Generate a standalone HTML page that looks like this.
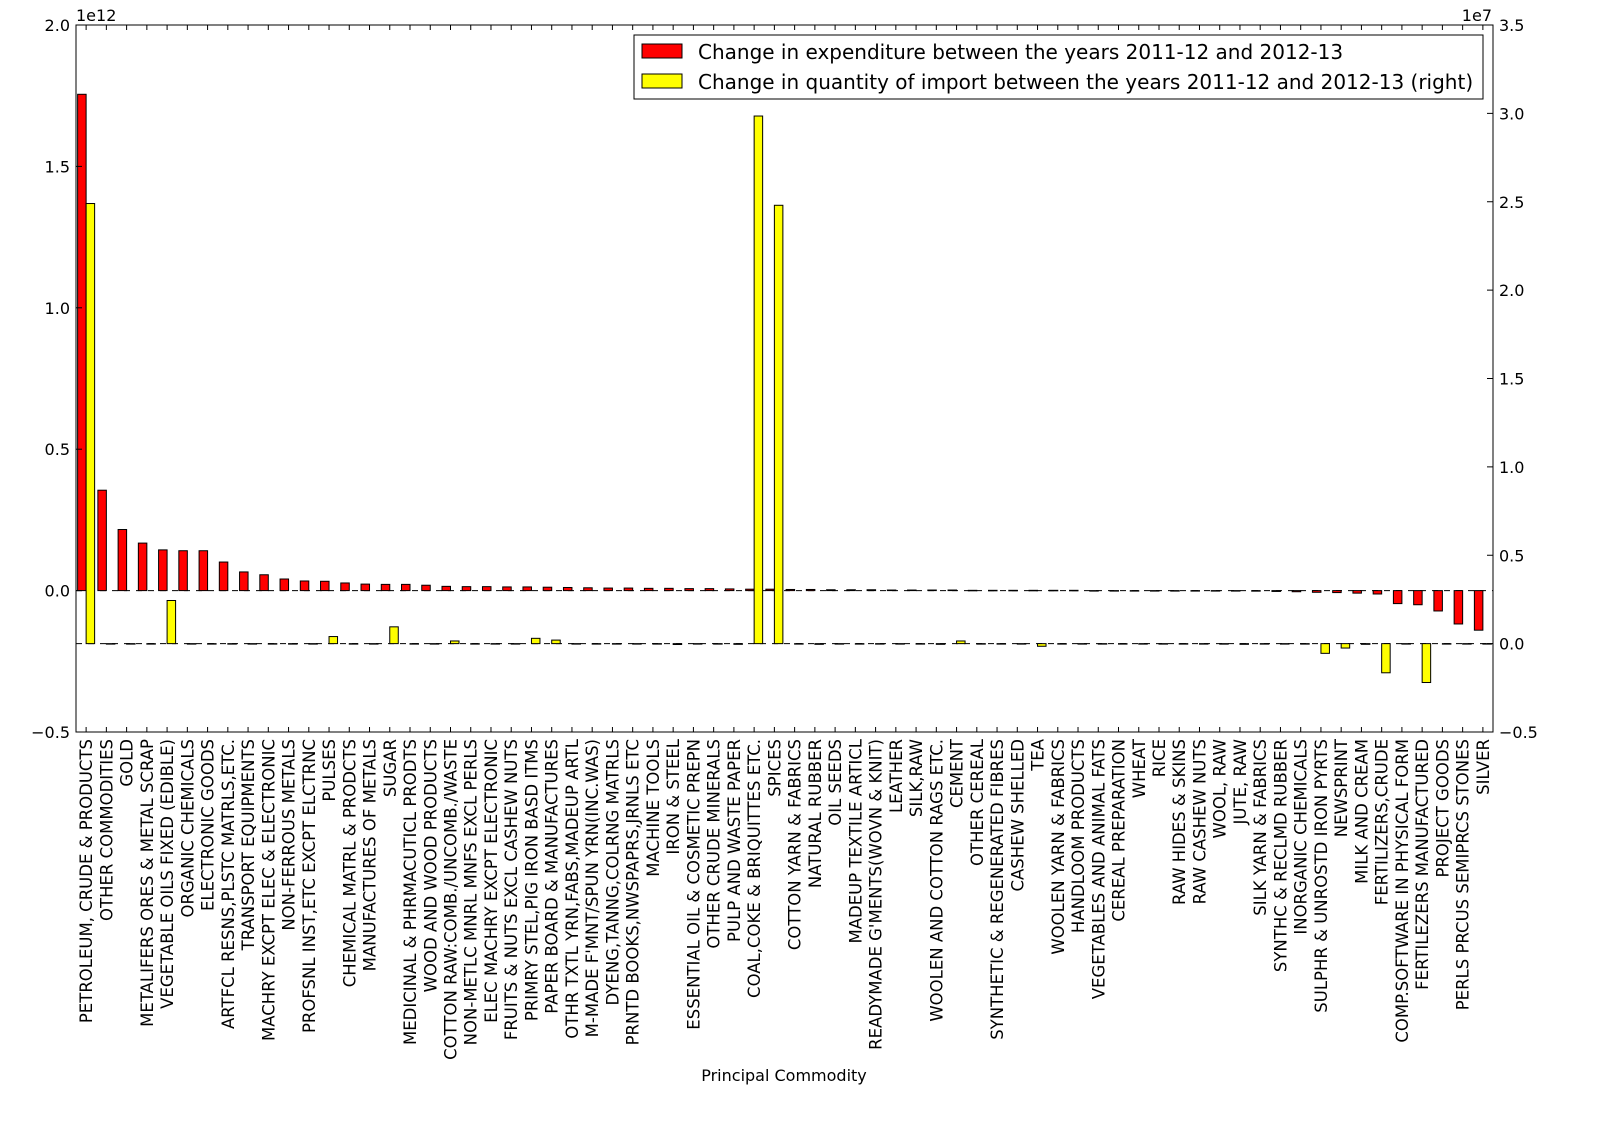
<!DOCTYPE html>
<html><head><meta charset="utf-8"><style>
body{margin:0;background:#fff;}
svg text{font-family:"DejaVu Sans","Liberation Sans",sans-serif;fill:#000;}
</style></head><body>
<svg id="chart" width="1600" height="1122" xmlns="http://www.w3.org/2000/svg" style="position:absolute;left:0;top:0"></svg>
<script>
const categories=["PETROLEUM, CRUDE & PRODUCTS","OTHER COMMODITIES","GOLD","METALIFERS ORES & METAL SCRAP","VEGETABLE OILS FIXED (EDIBLE)","ORGANIC CHEMICALS","ELECTRONIC GOODS","ARTFCL RESNS,PLSTC MATRLS,ETC.","TRANSPORT EQUIPMENTS","MACHRY EXCPT ELEC & ELECTRONIC","NON-FERROUS METALS","PROFSNL INST,ETC EXCPT ELCTRNC","PULSES","CHEMICAL MATRL & PRODCTS","MANUFACTURES OF METALS","SUGAR","MEDICINAL & PHRMACUTICL PRODTS","WOOD AND WOOD PRODUCTS","COTTON RAW:COMB./UNCOMB./WASTE","NON-METLC MNRL MNFS EXCL PERLS","ELEC MACHRY EXCPT ELECTRONIC","FRUITS & NUTS EXCL CASHEW NUTS","PRIMRY STEL,PIG IRON BASD ITMS","PAPER BOARD & MANUFACTURES","OTHR TXTL YRN,FABS,MADEUP ARTL","M-MADE F'MNT/SPUN YRN(INC.WAS)","DYENG,TANNG,COLRNG MATRLS","PRNTD BOOKS,NWSPAPRS,JRNLS ETC","MACHINE TOOLS","IRON & STEEL","ESSENTIAL OIL & COSMETIC PREPN","OTHER CRUDE MINERALS","PULP AND WASTE PAPER","COAL,COKE & BRIQUITTES ETC.","SPICES","COTTON YARN & FABRICS","NATURAL RUBBER","OIL SEEDS","MADEUP TEXTILE ARTICL","READYMADE G'MENTS(WOVN & KNIT)","LEATHER","SILK,RAW","WOOLEN AND COTTON RAGS ETC.","CEMENT","OTHER CEREAL","SYNTHETIC & REGENERATED FIBRES","CASHEW SHELLED","TEA","WOOLEN YARN & FABRICS","HANDLOOM PRODUCTS","VEGETABLES AND ANIMAL FATS","CEREAL PREPARATION","WHEAT","RICE","RAW HIDES & SKINS","RAW CASHEW NUTS","WOOL, RAW","JUTE, RAW","SILK YARN & FABRICS","SYNTHC & RECLMD RUBBER","INORGANIC CHEMICALS","SULPHR & UNROSTD IRON PYRTS","NEWSPRINT","MILK AND CREAM","FERTILIZERS,CRUDE","COMP.SOFTWARE IN PHYSICAL FORM","FERTILEZERS MANUFACTURED","PROJECT GOODS","PERLS PRCUS SEMIPRCS STONES","SILVER"];
// expenditure change, units of 1e12
const expenditure=[1.755,0.355,0.216,0.168,0.144,0.141,0.141,0.101,0.066,0.056,0.041,0.034,0.033,0.027,0.023,0.022,0.022,0.019,0.015,0.014,0.014,0.013,0.013,0.012,0.011,0.010,0.009,0.009,0.008,0.008,0.007,0.007,0.006,0.005,0.005,0.004,0.004,0.003,0.003,0.003,0.002,0.002,0.002,0.002,0.001,0.001,0.001,0.001,0.001,0.001,0.000,0.000,0.000,0.000,0.000,-0.001,-0.001,-0.001,-0.002,-0.003,-0.004,-0.006,-0.007,-0.009,-0.012,-0.046,-0.05,-0.072,-0.118,-0.14];
// quantity change, units of 1e7
const quantity=[2.49,0,0,0,0.244,0,0,0,0,0,0,0,0.04,0,0,0.095,0,0,0.015,0,0,0,0.03,0.02,0,0,0,0,0,-0.005,0,0,-0.004,2.985,2.48,0,-0.004,0,0,0,0,0,-0.004,0.015,0,0,0,-0.015,0,0,0,0,0,0,0,0,-0.003,-0.004,0,0,0,-0.055,-0.025,-0.004,-0.165,0,-0.22,0,0,0];
const leftTicks=["\u22120.5","0.0","0.5","1.0","1.5","2.0"];
const leftTickVals=[-0.5,0,0.5,1,1.5,2];
const rightTickVals=[-0.5,0,0.5,1,1.5,2,2.5,3,3.5];
const rightTicks=["\u22120.5","0.0","0.5","1.0","1.5","2.0","2.5","3.0","3.5"];

const L=76,R=1493,T=25,B=732;
const yL=v=>B-(v+0.5)/2.5*(B-T);
const yR=v=>B-(v+0.5)/4*(B-T);
const step=(R-L)/categories.length;
const xC=i=>L+step*(i+0.5);
const bw=step*0.42;
const svg=document.getElementById('chart');
const NS="http://www.w3.org/2000/svg";
function mk(tag,attrs,parent){const e=document.createElementNS(NS,tag);for(const k in attrs)e.setAttribute(k,attrs[k]);(parent||svg).appendChild(e);return e;}

let z1=mk('line',{x1:L,x2:R,y1:yL(0),y2:yL(0),stroke:'#000','stroke-dasharray':'6,6','stroke-width':1});


let z2=mk('line',{x1:L,x2:R,y1:yR(0),y2:yR(0),stroke:'#000','stroke-dasharray':'6,6','stroke-width':1});



categories.forEach((c,i)=>{
  const v=expenditure[i];
  const y0=yL(0),y1=yL(v);
  const r=mk('rect',{x:xC(i)-bw,y:Math.min(y0,y1),width:bw,height:Math.max(Math.abs(y1-y0),0.5),fill:'#ff0000',stroke:'#000','stroke-width':1});
  
  
  const q=quantity[i];
  const q0=yR(0),q1=yR(q);
  const r2=mk('rect',{x:xC(i),y:Math.min(q0,q1),width:bw,height:Math.max(Math.abs(q1-q0),0.5),fill:'#ffff00',stroke:'#000','stroke-width':1});
  
  
  mk('line',{x1:xC(i),x2:xC(i),y1:B,y2:B-5,stroke:'#000'});
  mk('line',{x1:xC(i),x2:xC(i),y1:T,y2:T+5,stroke:'#000'});
  const t=mk('text',{x:0,y:0,'font-size':16.5,'text-anchor':'end',transform:`translate(${xC(i)+6},${B+7}) rotate(-90)`});
  t.textContent=c;
  
  
});

let fr=mk('rect',{x:L,y:T,width:R-L,height:B-T,fill:'none',stroke:'#000','stroke-width':1});



leftTickVals.forEach((v,i)=>{
  const y=yL(v);
  mk('line',{x1:L,x2:L+6,y1:y,y2:y,stroke:'#000'});
  const t=mk('text',{x:L-6,y:y+6,'font-size':16,'text-anchor':'end'});
  t.textContent=leftTicks[i];
  
  
});
rightTickVals.forEach((v,i)=>{
  const y=yR(v);
  mk('line',{x1:R-6,x2:R,y1:y,y2:y,stroke:'#000'});
  const t=mk('text',{x:R+6,y:y+6,'font-size':16,'text-anchor':'start'});
  t.textContent=rightTicks[i];
  
  
});
</script>
<svg style="position:absolute;left:0;top:0" width="1600" height="1122" xmlns="http://www.w3.org/2000/svg">
<text x="76" y="21" font-size="16">1e12</text>
<text x="1492" y="21" font-size="16" text-anchor="end">1e7</text>
<text x="784" y="1081" font-size="16" text-anchor="middle">Principal Commodity</text>
<g>
<rect x="634" y="35" width="849" height="64" fill="#fff" stroke="#000"/>
<rect x="642" y="44" width="40" height="14" fill="#ff0000" stroke="#000"/>
<text x="698" y="59" font-size="20">Change in expenditure between the years 2011-12 and 2012-13</text>
<rect x="642" y="74" width="40" height="14" fill="#ffff00" stroke="#000"/>
<text x="698" y="89" font-size="20">Change in quantity of import between the years 2011-12 and 2012-13 (right)</text>
</g>
</svg>
</body></html>
